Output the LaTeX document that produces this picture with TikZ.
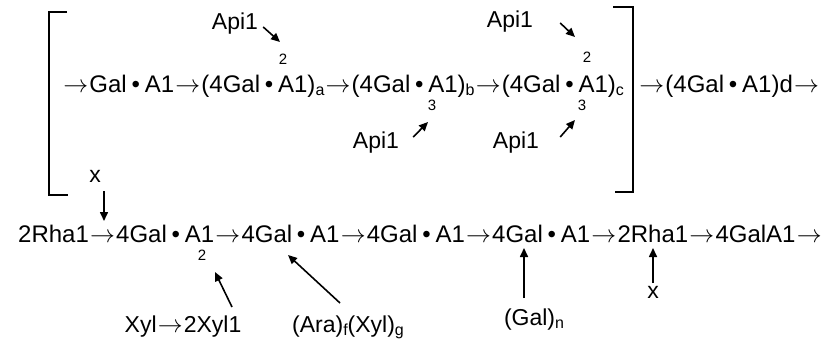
\documentclass[tikz,border=0pt]{standalone}
\usepackage{fontspec}
\setmainfont{Liberation Sans}
\usetikzlibrary{arrows.meta}
\newcommand\bdot{\hspace{0.2em}•\hspace{0.2em}}
\newcommand\rar{\hspace{0.05em}\ensuremath{\rightarrow}\hspace{0.05em}}
\newcommand\sbs[1]{\raisebox{-3pt}{\fontsize{16}{16}\selectfont #1}}
\begin{document}
\begin{tikzpicture}[x=1pt,y=-1pt,
 txt/.style={inner sep=0pt, anchor=base west, font=\fontsize{24}{28}\selectfont},
 lbl/.style={inner sep=0pt, font=\fontsize{23}{27}\selectfont},
 num/.style={inner sep=0pt, font=\fontsize{15}{15}\selectfont},
 arr/.style={line width=1.6pt, -{Triangle[length=9pt,width=8pt]}},
 brk/.style={line width=1.8pt}]
\useasboundingbox (0,0) rectangle (830,340);
% main lines
\node[txt] (l1) at (62,92) {\rar Gal\bdot A1\rar(4Gal\bdot A1)\sbs{a}\rar(4Gal\bdot A1)\sbs{b}\rar(4Gal\bdot A1)\sbs{c}};
\node[txt] (l1r) at (638,92) {\rar(4Gal\bdot A1)d\rar};
\node[txt] (l2) at (18,242) {2Rha1\rar 4Gal\bdot A1\rar 4Gal\bdot A1\rar 4Gal\bdot A1\rar 4Gal\bdot A1\rar 2Rha1\rar 4GalA1\rar};
% brackets
\draw[brk] (67,12) -- (49,12) -- (49,195) -- (68,195);
\draw[brk] (613,7) -- (633,7) -- (633,192) -- (615,192);
% position numbers
\node[num] (n2a) at (283,59) {2};
\node[num] (n3b) at (432,105) {3};
\node[num] (n2c) at (587,57) {2};
\node[num] (n3c) at (582,105) {3};
\node[num] (n2d) at (202,255) {2};
% labels
\node[lbl] (api1a) at (235,24) {Api1};
\node[lbl] (api1b) at (376,143) {Api1};
\node[lbl] (api1c) at (510,22) {Api1};
\node[lbl] (api1d) at (516,143) {Api1};
\node[lbl] (x1) at (95,176) {x};
\node[lbl] (xyl) at (183,327) {Xyl\rar 2Xyl1};
\node[lbl] (ara) at (348,327) {(Ara)\sbs{f}(Xyl)\sbs{g}};
\node[lbl] (galn) at (534,320) {(Gal)\sbs{n}};
\node[lbl] (x2) at (653,292) {x};
% targets on line 2
\coordinate (t1) at (104,221);
\coordinate (t2) at (288,255);
\coordinate (t3) at (524,248);
\coordinate (t4) at (653,248);
% arrows
\draw[arr] ([shift={(5,3)}]api1a.east) -- ([shift={(-3,-17)}]n2a.center);
\draw[arr] ([shift={(14,-6)}]api1b.east) -- ([shift={(-4,17)}]n3b.center);
\draw[arr] ([shift={(27,1)}]api1c.east) -- ([shift={(-12,-20)}]n2c.center);
\draw[arr] ([shift={(21,-6)}]api1d.east) -- ([shift={(-7,15)}]n3c.center);
\draw[arr] ([shift={(9,15)}]x1.center) -- (t1);
\draw[arr] ([shift={(49,-20)}]xyl.center) -- ([shift={(13,17)}]n2d.center);
\draw[arr] ([shift={(-8,-24)}]ara.center) -- (t2);
\draw[arr] ([shift={(-10,-22)}]galn.center) -- (t3);
\draw[arr] ([shift={(0,-9)}]x2.center) -- (t4);
\end{tikzpicture}
\end{document}
